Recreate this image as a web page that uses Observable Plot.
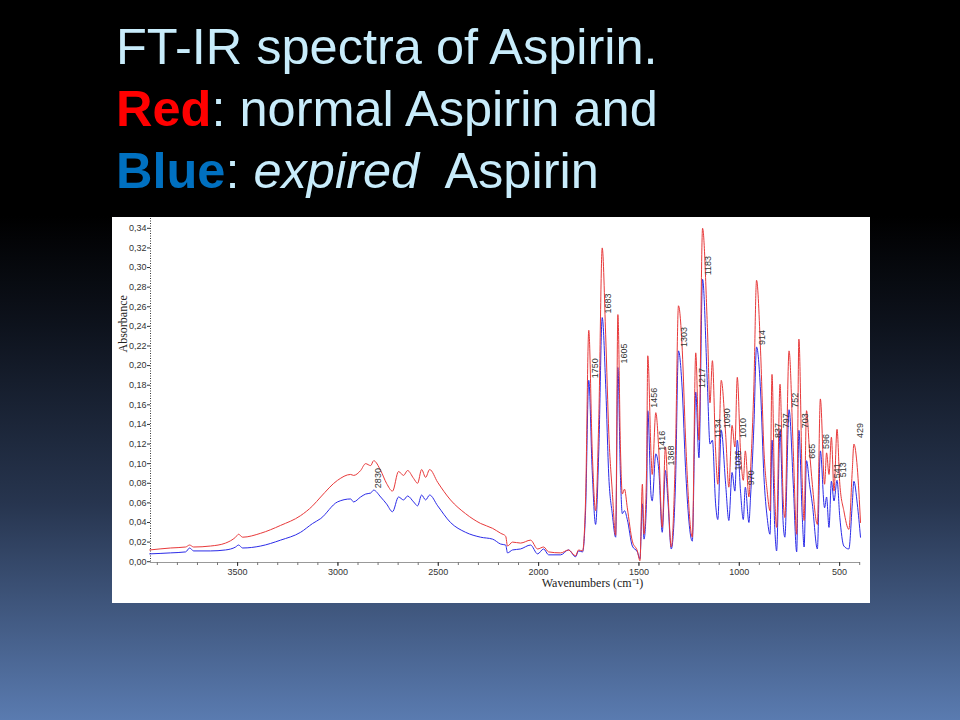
<!DOCTYPE html>
<html><head><meta charset="utf-8">
<script src="https://cdn.jsdelivr.net/npm/d3@7"></script>
<script src="https://cdn.jsdelivr.net/npm/@observablehq/plot@0.6"></script>
<style>
html,body{margin:0;padding:0;}
body{width:960px;height:720px;overflow:hidden;position:relative;
  background:linear-gradient(to bottom,#000 0%,#000 30%,#0d121c 45%,#27354f 70%,#5a7bb0 100%);
  font-family:"Liberation Sans",Arial,sans-serif;}
#title{position:absolute;left:116px;top:16px;font-size:50.5px;line-height:62px;color:#c8ecfb;white-space:nowrap;}
#chart{position:absolute;left:112px;top:217px;width:758px;height:386px;background:#fff;}
</style></head>
<body>
<div id="title">FT-IR spectra of Aspirin.<br><b style="color:#ff0000">Red</b>: normal Aspirin and<br><b style="color:#0070c0">Blue</b>: <i>expired</i>&nbsp; Aspirin</div>
<div id="chart"></div>
<script>
const wavenumbers = [3938,3834,3759,3739,3719,3635,3560,3510,3495,3475,3385,3286,3186,3126,3086,3002,2937,2922,2887,2862,2837,2822,2787,2758,2728,2698,2673,2653,2623,2603,2583,2563,2543,2503,2439,2364,2289,2229,2189,2164,2155,2130,2090,2040,2005,1975,1950,1890,1851,1816,1801,1781,1766,1750,1733,1716,1700,1683,1666,1650,1633,1616,1605,1592,1583,1572,1558,1533,1508,1495,1483,1475,1462,1456,1439,1434,1416,1401,1384,1368,1356,1339,1318,1303,1284,1268,1234,1217,1201,1183,1159,1146,1134,1118,1107,1090,1068,1052,1036,1022,1010,994,980,970,952,944,927,914,894,877,861,847,837,824,814,797,781,773,752,731,714,703,686,677,665,650,636,611,596,575,565,553,541,528,513,499,479,454,437,429,412,396];
const normalAbs = [.012,.014,.015,.017,.015,.016,.019,.025,.028,.025,.029,.037,.047,.057,.066,.083,.089,.088,.093,.100,.098,.103,.093,.080,.072,.092,.088,.093,.085,.080,.094,.086,.094,.081,.063,.049,.039,.034,.029,.026,.016,.020,.019,.022,.013,.015,.010,.009,.012,.006,.012,.011,.063,.236,.114,.052,.147,.320,.232,.130,.072,.027,.252,.114,.069,.074,.055,.021,.011,.001,.079,.028,.093,.210,.106,.089,.152,.113,.035,.117,.073,.015,.113,.261,.215,.127,.025,.213,.124,.340,.239,.162,.205,.113,.079,.185,.130,.076,.139,.117,.188,.113,.083,.113,.066,.093,.181,.287,.215,.113,.072,.052,.191,.072,.035,.181,.062,.045,.215,.113,.028,.227,.079,.042,.154,.113,.079,.038,.166,.079,.111,.089,.127,.072,.135,.079,.052,.033,.093,.120,.096,.040];
const expiredAbs = [.008,.009,.010,.014,.011,.011,.012,.015,.017,.014,.016,.022,.030,.039,.044,.061,.064,.061,.066,.069,.070,.073,.066,.059,.051,.066,.063,.067,.061,.057,.068,.063,.068,.057,.040,.030,.025,.023,.018,.017,.009,.012,.013,.017,.008,.013,.007,.007,.012,.005,.011,.010,.052,.185,.093,.038,.114,.249,.181,.086,.049,.025,.198,.086,.049,.052,.043,.016,.010,.003,.059,.023,.063,.154,.066,.062,.110,.093,.030,.093,.063,.013,.079,.215,.174,.096,.021,.173,.106,.288,.181,.120,.124,.059,.043,.134,.079,.042,.091,.072,.124,.072,.043,.076,.040,.066,.140,.219,.174,.086,.045,.028,.124,.038,.011,.134,.038,.025,.155,.079,.010,.134,.045,.015,.103,.079,.059,.013,.113,.055,.066,.035,.082,.062,.083,.045,.016,.013,.059,.082,.059,.025];
const peakWavenumbers = [2830,1750,1683,1605,1456,1416,1368,1303,1217,1183,1134,1090,1036,1010,970,914,837,797,752,703,665,596,541,513,429];
const peakAbs = [.073,.185,.251,.200,.155,.111,.096,.217,.175,.290,.124,.134,.091,.124,.076,.219,.124,.134,.155,.134,.103,.113,.083,.084,.124];
const yTicks = [0,0.02,0.04,0.06,0.08,0.10,0.12,0.14,0.16,0.18,0.20,0.22,0.24,0.26,0.28,0.30,0.32,0.34];
const xLabelTicks = [3500,3000,2500,2000,1500,1000,500];
const xMinorTicks = d3.range(3900, 399, -100);
const xDomain = [3934, 396];
const yDomain = [-0.0008, 0.35];

const normal = wavenumbers.map((w, i) => ({w, a: normalAbs[i]}));
const expired = wavenumbers.map((w, i) => ({w, a: expiredAbs[i]}));
const peaks = peakWavenumbers.map((w, i) => ({w, a: peakAbs[i]}));

const chart = Plot.plot({
  width: 758, height: 386,
  marginLeft: 38, marginRight: 10, marginTop: 1, marginBottom: 41,
  style: {background: "transparent", fontFamily: "Liberation Sans, Arial, sans-serif", fontSize: "9px", color: "#333"},
  x: {domain: xDomain},
  y: {domain: yDomain},
  marks: [
    Plot.ruleX([xDomain[0]], {stroke: "#333", strokeDasharray: "1,1.5"}),
    Plot.ruleY([yDomain[0]], {stroke: "#999"}),
    Plot.axisY({ticks: yTicks, tickFormat: d => d.toFixed(2).replace(".", ","), tickSize: 3, tickPadding: 1, label: null, fill: "#333"}),
    Plot.axisX({ticks: xMinorTicks, tickFormat: () => "", tickSize: 3, label: null, stroke: "#777"}),
    Plot.axisX({ticks: xLabelTicks, tickFormat: d => String(d), tickSize: 4, tickPadding: 2, label: null, fill: "#333"}),
    Plot.line(expired, {x: "w", y: "a", stroke: "#2b2be8", strokeWidth: 1, curve: "monotone-x"}),
    Plot.line(normal, {x: "w", y: "a", stroke: "#e8393a", strokeWidth: 1, curve: "monotone-x"}),
    Plot.text(peaks, {x: "w", y: "a", text: d => String(d.w), rotate: -90, textAnchor: "start", dx: 6, dy: -2, fontSize: 9, fill: "#333"}),
    Plot.text(["Absorbance"], {text: d => d, frameAnchor: "left", rotate: -90, dx: -27, dy: -38, fontFamily: "Liberation Serif, serif", fontSize: 12, fill: "#222"}),
    Plot.text(["Wavenumbers (cm\u207B\u00B9)"], {text: d => d, frameAnchor: "bottom", dx: 87, dy: 24, fontFamily: "Liberation Serif, serif", fontSize: 12, fill: "#222"})
  ]
});
document.getElementById("chart").appendChild(chart);
</script>
</body></html>
